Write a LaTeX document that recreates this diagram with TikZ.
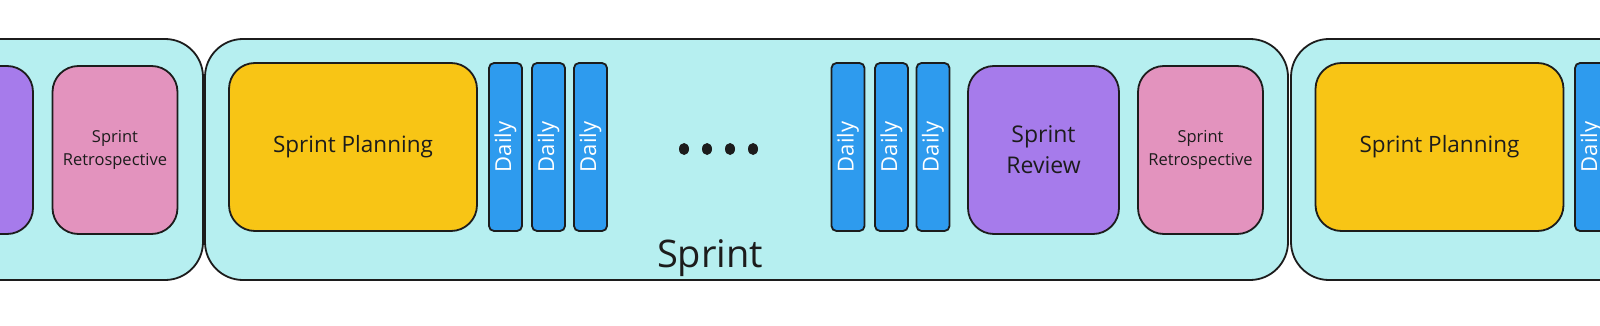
\documentclass[tikz,border=0pt]{standalone}
\usepackage{fontspec}
\setmainfont{Open Sans}
\definecolor{sprintbg}{HTML}{B6EFF0}
\definecolor{planfill}{HTML}{F8C515}
\definecolor{dailyfill}{HTML}{2E9BEE}
\definecolor{reviewfill}{HTML}{A67BEB}
\definecolor{retrofill}{HTML}{E393BE}
\definecolor{ink}{HTML}{1C1C1C}
\tikzset{
  sprintbox/.style={draw=ink, line width=1.8pt, fill=sprintbg, rounded corners=38pt, minimum height=241pt, inner sep=0pt},
  innerbox/.style={draw=ink, line width=1.8pt, rounded corners=26pt, minimum height=168pt, inner sep=0pt, text=ink, align=center},
  planbox/.style={innerbox, fill=planfill, minimum width=248pt, font=\fontsize{22.5}{27}\selectfont},
  reviewbox/.style={innerbox, fill=reviewfill, minimum width=151pt, font=\fontsize{23}{31}\selectfont},
  retrobox/.style={innerbox, fill=retrofill, minimum width=125pt, font=\fontsize{16.5}{23}\selectfont},
  dailybox/.style={draw=ink, line width=1.8pt, fill=dailyfill, rounded corners=5pt, minimum width=33pt, minimum height=168pt, inner sep=0pt},
  dailytext/.style={text=white, rotate=90, font=\fontsize{22}{26}\selectfont, inner sep=0pt},
  dotmark/.style={fill=ink, draw=none, ellipse, minimum width=10pt, minimum height=12pt, inner sep=0pt}
}
\usetikzlibrary{shapes.geometric}
\begin{document}
\begin{tikzpicture}[x=1pt,y=-1pt]
\useasboundingbox (0,0) rectangle (1600,326);
\fill[white] (0,0) rectangle (1600,326);
\clip (0,0) rectangle (1600,326);
% sprint containers
\node[sprintbox, minimum width=303pt] (lsprint) at (51.5,159.5) {};
\node[sprintbox, minimum width=1083pt] (msprint) at (746.5,159.5) {};
\node[sprintbox, minimum width=409pt] (rsprint) at (1495.5,159.5) {};
% left partial sprint
\node[reviewbox] (lreview) at (-42.5,150) {};
\node[retrobox] (lretro) at (115,150) {Sprint\\Retrospective};
% middle sprint
\node[planbox] (plan) at (353,147) {Sprint Planning};
\foreach \n/\x in {d1/505.5, d2/548.5, d3/590.5, d4/848, d5/891.5, d6/933}{
  \node[dailybox] (\n) at (\x,147) {};
  \node[dailytext] at (\n.center) {Daily};
}
\foreach \n/\x in {p1/684, p2/707, p3/730, p4/753}{
  \node[dotmark] (\n) at (\x,149) {};
}
\node[reviewbox] (review) at (1043.5,150) {Sprint\\Review};
\node[retrobox] (retro) at (1200.5,150) {Sprint\\Retrospective};
\node[anchor=base, text=ink, font=\fontsize{38}{44}\selectfont, inner sep=0pt] (label) at (710,267) {Sprint};
% right partial sprint
\node[planbox] (rplan) at (1439.5,147) {Sprint Planning};
\node[dailybox] (rd1) at (1591.5,147) {};
\node[dailytext] at (rd1.center) {Daily};
\end{tikzpicture}
\end{document}
